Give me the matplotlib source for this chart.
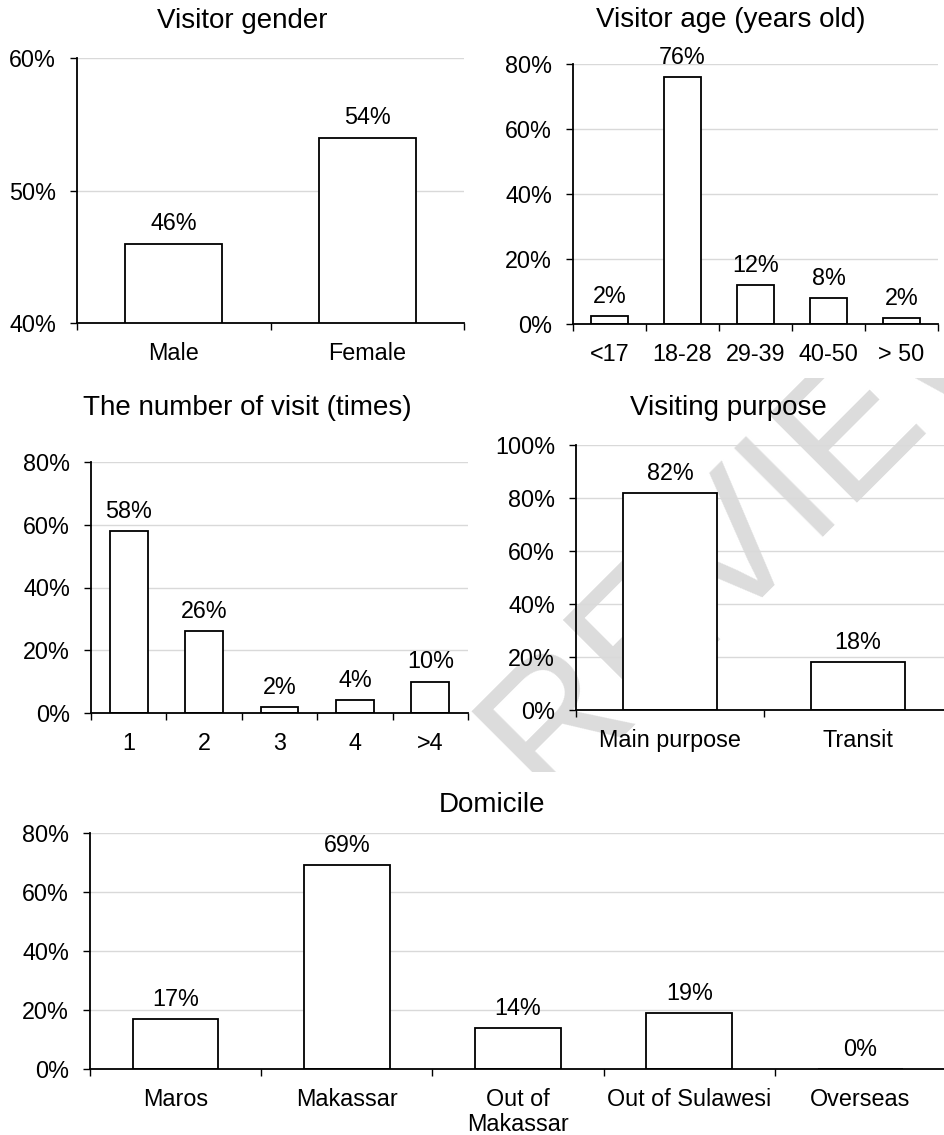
import numpy as np
import matplotlib
matplotlib.use("Agg")
import matplotlib.pyplot as plt
from matplotlib.ticker import PercentFormatter
from matplotlib.transforms import Bbox, TransformedBbox

plt.rcParams['font.family'] = ['Liberation Sans', 'DejaVu Sans']

gender_labels = ["Male", "Female"]
gender_values = [46, 54]

age_labels = ["<17", "18-28", "29-39", "40-50", "> 50"]
age_values = [2.4, 76, 12, 8, 1.9]

visit_labels = ["1", "2", "3", "4", ">4"]
visit_values = [58, 26, 2, 4, 10]

purpose_labels = ["Main purpose", "Transit"]
purpose_values = [82, 18]

domicile_labels = ["Maros", "Makassar", "Out of\nMakassar", "Out of Sulawesi", "Overseas"]
domicile_values = [17, 69, 14, 19, 0]

W, H = 944, 1135
fig = plt.figure(figsize=(W / 100, H / 100), dpi=100)


def px_rect(l, t, r, b):
    return [l / W, 1 - b / H, (r - l) / W, (b - t) / H]


def bar_panel(rect, title, title_xy, labels, values, ylim, ystep):
    ax = fig.add_axes(px_rect(*rect))
    ax.set_facecolor('none')
    n = len(values)
    x = np.arange(n)
    ax.bar(x, values, width=0.5, color='white', edgecolor='black', linewidth=1.3, zorder=2)
    for xi, v in zip(x, values):
        ax.annotate(f"{v:.0f}%", (xi, v), xytext=(0, 9.5), textcoords='offset points',
                    ha='center', va='baseline', fontsize=16.8)
    ax.set_xlim(-0.5, n - 0.5)
    ax.set_ylim(*ylim)
    ax.set_yticks(np.arange(ylim[0], ylim[1] + 0.1, ystep))
    ax.yaxis.set_major_formatter(PercentFormatter(decimals=0))
    ax.set_xticks(np.arange(n + 1) - 0.5)
    ax.set_xticklabels([])
    ax.set_xticks(x, labels, minor=True)
    for lab in ax.get_xticklabels(minor=True):
        lab.set_linespacing(1.1)
    ax.tick_params(axis='x', which='major', length=5, width=1, direction='out')
    ax.tick_params(axis='x', which='minor', length=0, pad=13.5, labelsize=16.8)
    ax.tick_params(axis='y', length=5, width=1, direction='out', pad=10, labelsize=16.8)
    ax.yaxis.grid(True, color='#d9d9d9', linewidth=1.0)
    ax.set_axisbelow(True)
    for s in ['top', 'right']:
        ax.spines[s].set_visible(False)
    for s in ['left', 'bottom']:
        ax.spines[s].set_linewidth(1.3)
    fig.text(title_xy[0] / W, 1 - title_xy[1] / H, title, ha='center', va='baseline', fontsize=20)
    return ax


bar_panel((77, 58, 464, 323), "Visitor gender", (242, 28), gender_labels, gender_values, (40, 60), 10)
bar_panel((573, 64, 938, 324), "Visitor age (years old)", (731, 27), age_labels, age_values, (0, 80), 20)
bar_panel((91, 462, 468, 713), "The number of visit (times)", (247, 415), visit_labels, visit_values, (0, 80), 20)
bar_panel((576, 445, 952, 710), "Visiting purpose", (728, 415), purpose_labels, purpose_values, (0, 100), 20)
bar_panel((90, 833, 946, 1069), "Domicile", (492, 812), domicile_labels, domicile_values, (0, 80), 20)

# faint watermark, only visible in a band of the page
wm = fig.text(545 / W, 1 - 800 / H, "REVIEW", rotation=45, rotation_mode='anchor',
              ha='left', va='baseline', fontsize=130, color='#dcdcdc', zorder=-1)
clip = TransformedBbox(Bbox.from_extents(450 / W, 1 - 772 / H, 1.0, 1 - 378 / H), fig.transFigure)
wm.set_clip_box(clip)
wm.set_clip_on(True)

fig.savefig("out.png", dpi=100)
